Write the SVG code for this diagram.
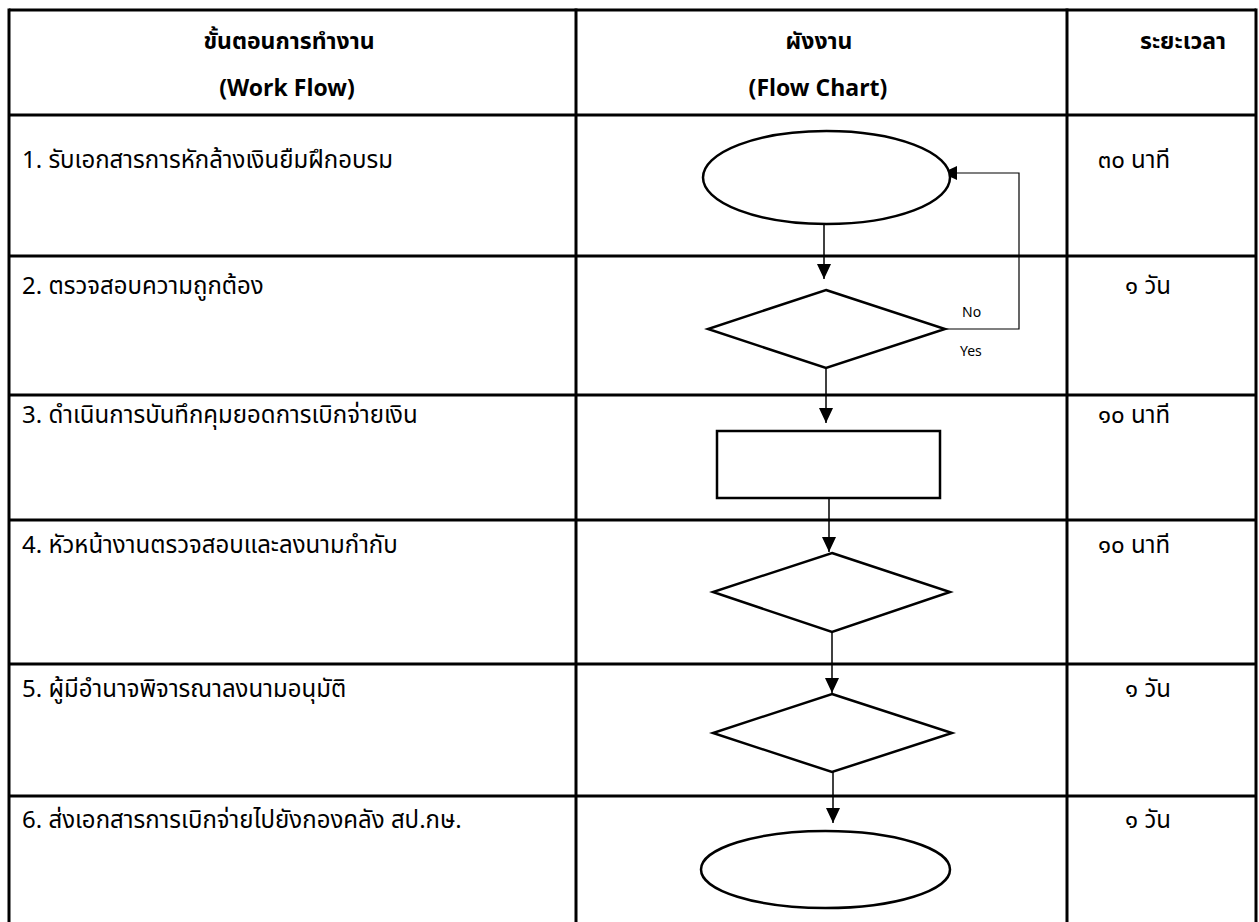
<svg xmlns="http://www.w3.org/2000/svg" width="1259" height="922" viewBox="0 0 1259 922">
<style>
  .bg{fill:#fff}
  .grid{stroke:#000;stroke-width:3;fill:none}
  .shape{fill:#fff;stroke:#000;stroke-width:2.5}
  .conn{stroke:#000;stroke-width:1.5;fill:none;marker-end:url(#arrow)}
  .loop{stroke:#000;stroke-width:1.2;fill:none;marker-end:url(#arrow)}
  .th{font-family:"Noto Sans Thai","Tahoma","DejaVu Sans","Noto Sans",sans-serif;font-size:24px;fill:#000}
  .hd{font-weight:bold;text-anchor:middle;font-size:23px}
  .tm{text-anchor:middle}
  .lbl{font-family:"Noto Sans","Liberation Sans",sans-serif;font-size:14px;fill:#000}
</style>
<defs>
  <marker id="arrow" viewBox="0 0 15 14" refX="15" refY="7" markerWidth="15" markerHeight="14" markerUnits="userSpaceOnUse" orient="auto">
    <path d="M0,0 L15,7 L0,14 z" fill="#000"/>
  </marker>
</defs>
<rect class="bg" x="0" y="0" width="1259" height="922"/>
<g id="table">
  <line class="grid" x1="9" y1="10" x2="1256" y2="10"/>
  <line class="grid" x1="9" y1="115" x2="1256" y2="115"/>
  <line class="grid" x1="9" y1="256" x2="1256" y2="256"/>
  <line class="grid" x1="9" y1="395" x2="1256" y2="395"/>
  <line class="grid" x1="9" y1="520" x2="1256" y2="520"/>
  <line class="grid" x1="9" y1="664" x2="1256" y2="664"/>
  <line class="grid" x1="9" y1="796" x2="1256" y2="796"/>
  <line class="grid" x1="9" y1="8.5" x2="9" y2="922"/>
  <line class="grid" x1="576" y1="8.5" x2="576" y2="922"/>
  <line class="grid" x1="1067" y1="8.5" x2="1067" y2="922"/>
  <line class="grid" x1="1256" y1="8.5" x2="1256" y2="922"/>
</g>
<g id="headers">
  <text class="th hd" x="289" y="49">ขั้นตอนการทำงาน</text>
  <text class="th hd" x="287" y="96">(Work Flow)</text>
  <text class="th hd" x="819" y="49">ผังงาน</text>
  <text class="th hd" x="818" y="96">(Flow Chart)</text>
  <text class="th hd" x="1183" y="49">ระยะเวลา</text>
</g>
<g id="steps">
  <text class="th" x="22" y="168">1. รับเอกสารการหักล้างเงินยืมฝึกอบรม</text>
  <text class="th" x="22" y="294">2. ตรวจสอบความถูกต้อง</text>
  <text class="th" x="22" y="423">3. ดำเนินการบันทึกคุมยอดการเบิกจ่ายเงิน</text>
  <text class="th" x="22" y="553">4. หัวหน้างานตรวจสอบและลงนามกำกับ</text>
  <text class="th" x="22" y="697">5. ผู้มีอำนาจพิจารณาลงนามอนุมัติ</text>
  <text class="th" x="22" y="828">6. ส่งเอกสารการเบิกจ่ายไปยังกองคลัง สป.กษ.</text>
</g>
<g id="times">
  <text class="th tm" x="1134" y="168">๓๐ นาที</text>
  <text class="th tm" x="1148" y="294">๑ วัน</text>
  <text class="th tm" x="1134" y="423">๑๐ นาที</text>
  <text class="th tm" x="1134" y="553">๑๐ นาที</text>
  <text class="th tm" x="1148" y="697">๑ วัน</text>
  <text class="th tm" x="1148" y="828">๑ วัน</text>
</g>
<g id="connectors">
  <line class="conn" x1="824" y1="224" x2="824" y2="279"/>
  <line class="conn" x1="826" y1="368" x2="826" y2="423"/>
  <line class="conn" x1="829" y1="498" x2="829" y2="552"/>
  <line class="conn" x1="832" y1="632" x2="832" y2="693"/>
  <line class="conn" x1="833" y1="772" x2="833" y2="823"/>
  <polyline class="loop" points="945,329 1019,329 1019,173 942,173"/>
  <text class="lbl" x="962" y="317">No</text>
  <text class="lbl" x="960" y="356">Yes</text>
</g>
<g id="n1-start"><ellipse class="shape" cx="826.5" cy="177.5" rx="123.5" ry="46.5"/></g>
<g id="n2-check"><polygon class="shape" points="826,290 945,329 826,368 708,329"/></g>
<g id="n3-record"><rect class="shape" x="717" y="431" width="223" height="67"/></g>
<g id="n4-head"><polygon class="shape" points="832,553 950,592 832,632 713,592"/></g>
<g id="n5-approve"><polygon class="shape" points="832,694 952,733 832,772 713,733"/></g>
<g id="n6-end"><ellipse class="shape" cx="825.5" cy="869.5" rx="124.5" ry="38.5"/></g>
</svg>
